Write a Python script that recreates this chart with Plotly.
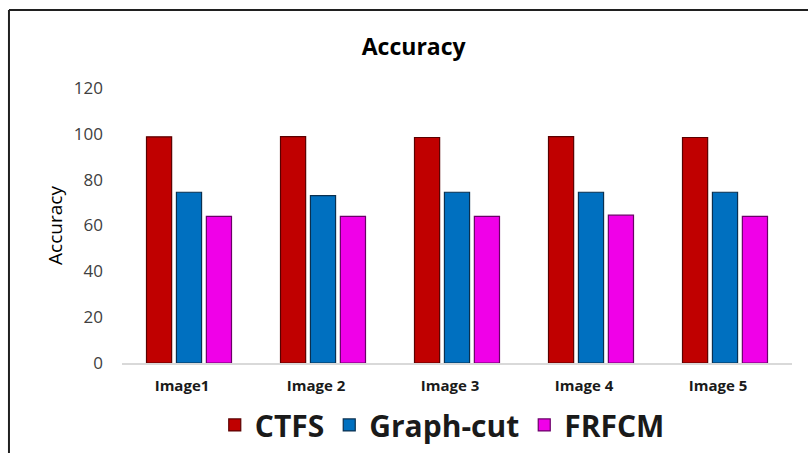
import plotly.graph_objects as go

# Accuracy (%) per test image for each segmentation method
images = ["Image1", "Image 2", "Image 3", "Image 4", "Image 5"]
ctfs = [98.7, 98.8, 98.4, 98.8, 98.4]
graph_cut = [74.5, 73.0, 74.5, 74.5, 74.5]
frfcm = [64.0, 64.0, 64.0, 64.5, 64.0]

series = [
    ("CTFS", ctfs, "#C00000", "#5A0000"),
    ("Graph-cut", graph_cut, "#0070C0", "#0A3050"),
    ("FRFCM", frfcm, "#F000E8", "#6A0068"),
]

fig = go.Figure()
for name, vals, fill, edge in series:
    fig.add_trace(go.Bar(
        x=images, y=vals, name=name,
        marker=dict(color=fill, line=dict(color=edge, width=1.2)),
    ))

fig.update_layout(
    width=808, height=453,
    margin=dict(l=122, r=16, t=88, b=90, autoexpand=False),
    paper_bgcolor="white", plot_bgcolor="white",
    barmode="group", bargap=0.33, bargroupgap=0.16,
    font=dict(family="Open Sans, Lato, sans-serif", color="#404040"),
    title=dict(text="Accuracy", x=0.512, xanchor="center", y=0.897, yanchor="middle",
               font=dict(size=23, color="#000000", weight="bold")),
    xaxis=dict(showline=True, linecolor="#D9D9D9", linewidth=1.5, ticks="",
               tickfont=dict(size=15, color="#1a1a1a", weight="bold"),
               ticklabelstandoff=8, ticklabelshift=-7),
    yaxis=dict(range=[0, 120], dtick=20, showgrid=False, zeroline=False, showline=False,
               tickfont=dict(size=17, color="#404040"), ticklabelstandoff=18,
               title=dict(text="Accuracy", font=dict(size=19, color="#000000"), standoff=6)),
    legend=dict(orientation="h", x=0.478, xanchor="center", y=-0.225, yanchor="middle",
                font=dict(size=30, color="#1a1a1a", weight="bold"),
                itemwidth=30, traceorder="normal"),
    showlegend=True,
    shapes=[
        dict(type="line", xref="paper", yref="paper", x0=-0.1687, x1=1.05, y0=1.2836, y1=1.2836,
             line=dict(color="#202020", width=2)),
        dict(type="line", xref="paper", yref="paper", x0=-0.1687, x1=-0.1687, y0=1.2836, y1=-0.35,
             line=dict(color="#202020", width=2)),
    ],
)

fig.write_html("out.html")
